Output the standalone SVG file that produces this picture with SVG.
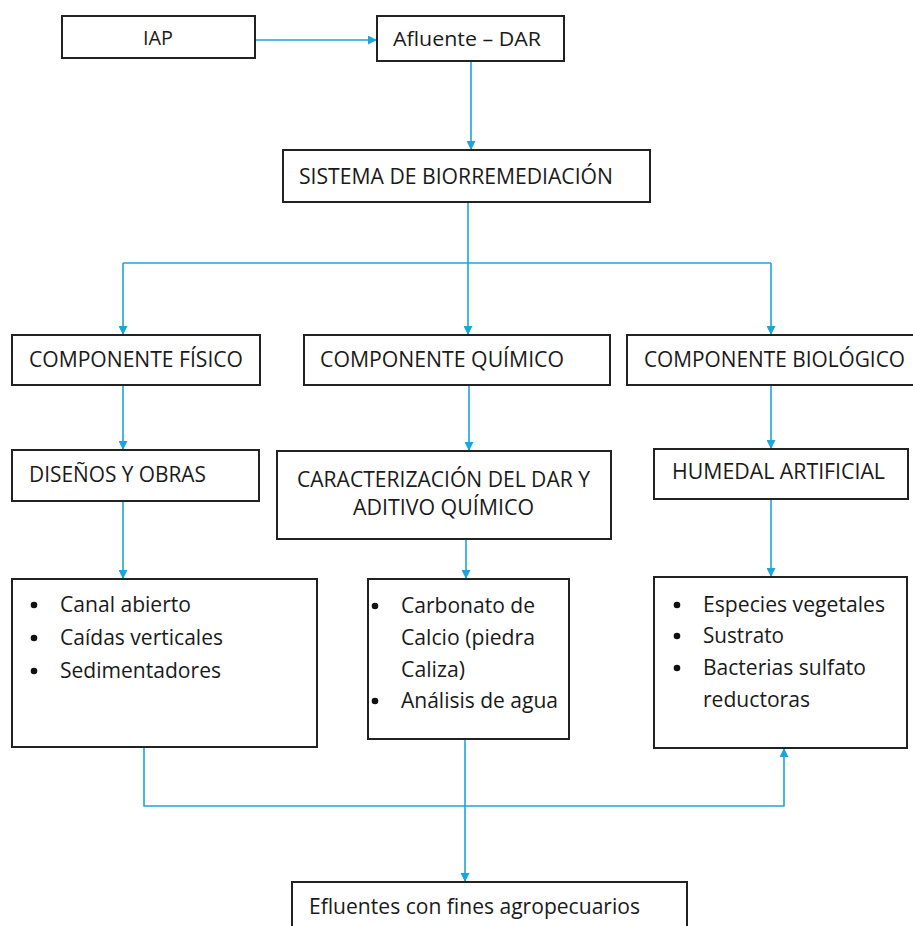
<svg xmlns="http://www.w3.org/2000/svg" width="913" height="926" viewBox="0 0 913 926">
<defs>
<marker id="ah" viewBox="0 0 10 10" refX="10" refY="5" markerWidth="9" markerHeight="9" markerUnits="userSpaceOnUse" orient="auto">
<path d="M0,0 L10,5 L0,10 z" fill="#1ba5dc"/>
</marker>
<style>
.box{fill:#fff;stroke:#222;stroke-width:2}
.t{font-family:"Open Sans","Liberation Sans",sans-serif;font-size:21px;fill:#1a1a1a}
.c{fill:none;stroke:#1ba5dc;stroke-width:1.6}
.b{fill:#111}
</style>
</defs>
<rect width="913" height="926" fill="#fff"/>
<g id="connectors">
<path class="c" d="M255,40 H377" marker-end="url(#ah)"/>
<path class="c" d="M471,61 V150" marker-end="url(#ah)"/>
<path class="c" d="M468,202 V263"/>
<path class="c" d="M123,263 H771"/>
<path class="c" d="M123,263 V335" marker-end="url(#ah)"/>
<path class="c" d="M468,263 V335" marker-end="url(#ah)"/>
<path class="c" d="M771,263 V335" marker-end="url(#ah)"/>
<path class="c" d="M123,385 V450" marker-end="url(#ah)"/>
<path class="c" d="M469,385 V451" marker-end="url(#ah)"/>
<path class="c" d="M771,385 V449" marker-end="url(#ah)"/>
<path class="c" d="M123,501 V579" marker-end="url(#ah)"/>
<path class="c" d="M466,539 V579" marker-end="url(#ah)"/>
<path class="c" d="M771,499 V577" marker-end="url(#ah)"/>
<path class="c" d="M144,747 V806 H784 V748" marker-end="url(#ah)"/>
<path class="c" d="M465,739 V882" marker-end="url(#ah)"/>
</g>
<g id="iap"><rect class="box" x="62" y="16" width="193" height="42"/><text class="t" x="158" y="45" text-anchor="middle" textLength="30" lengthAdjust="spacingAndGlyphs" style="font-size:20px">IAP</text></g>
<g id="afluente"><rect class="box" x="377" y="16" width="187" height="45"/><text class="t" x="393" y="46" textLength="148" lengthAdjust="spacingAndGlyphs" style="font-size:20px">Afluente – DAR</text></g>
<g id="sistema"><rect class="box" x="283" y="150" width="367" height="52"/><text class="t" x="299" y="184" textLength="314" lengthAdjust="spacingAndGlyphs">SISTEMA DE BIORREMEDIACIÓN</text></g>
<g id="fisico"><rect class="box" x="12" y="335" width="248" height="50"/><text class="t" x="29" y="367" textLength="214" lengthAdjust="spacingAndGlyphs">COMPONENTE FÍSICO</text></g>
<g id="quimico"><rect class="box" x="304" y="335" width="306" height="50"/><text class="t" x="320" y="367" textLength="244" lengthAdjust="spacingAndGlyphs">COMPONENTE QUÍMICO</text></g>
<g id="biologico"><rect class="box" x="627" y="335" width="292" height="50"/><text class="t" x="644" y="367" textLength="261" lengthAdjust="spacingAndGlyphs">COMPONENTE BIOLÓGICO</text></g>
<g id="disenos"><rect class="box" x="12" y="450" width="247" height="51"/><text class="t" x="29" y="482" textLength="177" lengthAdjust="spacingAndGlyphs">DISEÑOS Y OBRAS</text></g>
<g id="caracterizacion"><rect class="box" x="277" y="451" width="334" height="88"/><text class="t" x="297" y="487" textLength="293" lengthAdjust="spacingAndGlyphs">CARACTERIZACIÓN DEL DAR Y</text><text class="t" x="353" y="515" textLength="181" lengthAdjust="spacingAndGlyphs">ADITIVO QUÍMICO</text></g>
<g id="humedal"><rect class="box" x="654" y="449" width="254" height="50"/><text class="t" x="672" y="479" textLength="213" lengthAdjust="spacingAndGlyphs">HUMEDAL ARTIFICIAL</text></g>
<g id="fisico-lista"><rect class="box" x="12" y="579" width="305" height="168"/>
<circle class="b" cx="34" cy="605" r="3.3"/><text class="t" x="60" y="612" textLength="131" lengthAdjust="spacingAndGlyphs">Canal abierto</text>
<circle class="b" cx="34" cy="638" r="3.3"/><text class="t" x="60" y="645" textLength="163" lengthAdjust="spacingAndGlyphs">Caídas verticales</text>
<circle class="b" cx="34" cy="671" r="3.3"/><text class="t" x="60" y="678" textLength="161" lengthAdjust="spacingAndGlyphs">Sedimentadores</text></g>
<g id="quimico-lista"><rect class="box" x="368" y="579" width="201" height="160"/>
<circle class="b" cx="375" cy="606" r="3.3"/><text class="t" x="401" y="613" textLength="134" lengthAdjust="spacingAndGlyphs">Carbonato de</text>
<text class="t" x="401" y="645" textLength="134" lengthAdjust="spacingAndGlyphs">Calcio (piedra</text>
<text class="t" x="401" y="677" textLength="64" lengthAdjust="spacingAndGlyphs">Caliza)</text>
<circle class="b" cx="375" cy="701" r="3.3"/><text class="t" x="401" y="708" textLength="157" lengthAdjust="spacingAndGlyphs">Análisis de agua</text></g>
<g id="biologico-lista"><rect class="box" x="654" y="577" width="253" height="171"/>
<circle class="b" cx="677" cy="605" r="3.3"/><text class="t" x="703" y="612" textLength="182" lengthAdjust="spacingAndGlyphs">Especies vegetales</text>
<circle class="b" cx="677" cy="636" r="3.3"/><text class="t" x="703" y="643" textLength="81" lengthAdjust="spacingAndGlyphs">Sustrato</text>
<circle class="b" cx="677" cy="668" r="3.3"/><text class="t" x="703" y="675" textLength="163" lengthAdjust="spacingAndGlyphs">Bacterias sulfato</text>
<text class="t" x="703" y="707" textLength="107" lengthAdjust="spacingAndGlyphs">reductoras</text></g>
<g id="efluentes"><rect class="box" x="292" y="882" width="395" height="50"/><text class="t" x="309" y="914" textLength="331" lengthAdjust="spacingAndGlyphs">Efluentes con fines agropecuarios</text></g>
</svg>
